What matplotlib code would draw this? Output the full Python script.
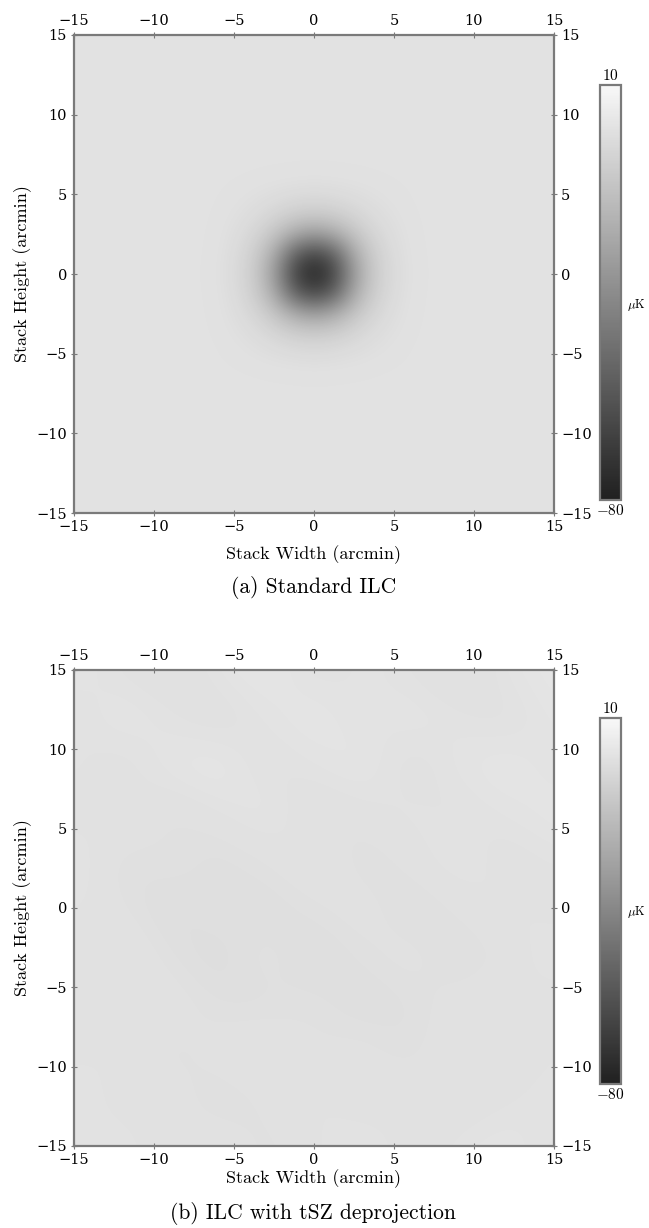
import numpy as np
import matplotlib
matplotlib.use("Agg")
from matplotlib import pyplot as plt
from matplotlib.colors import LinearSegmentedColormap

plt.rcParams['mathtext.fontset'] = 'cm'
plt.rcParams['axes.unicode_minus'] = True

TICKS = [-15, -10, -5, 0, 5, 10, 15]
VMIN, VMAX = -80, 10

# 标准 ILC 叠加图：背景水平 (uK)，中心 11x11 区块，间隔 1.25 arcmin，从上到下
BG_A = 1.0
BLOB_A = [
    [1.0, 1.0, 0.9, 0.8, 0.7, 0.6, 0.7, 0.8, 0.9, 1.0, 1.0],
    [1.0, 0.6, 0.0, -0.8, -1.5, -2.0, -1.5, -0.8, 0.0, 0.6, 1.0],
    [0.9, 0.0, -1.5, -4.0, -7.0, -8.0, -7.0, -4.0, -1.5, 0.0, 0.9],
    [0.8, -0.8, -4.0, -11.0, -22.0, -28.0, -22.0, -11.0, -4.0, -0.8, 0.8],
    [0.7, -1.5, -7.0, -22.0, -52.0, -64.0, -52.0, -22.0, -7.0, -1.5, 0.7],
    [0.6, -2.0, -8.0, -28.0, -64.0, -79.0, -64.0, -28.0, -8.0, -2.0, 0.6],
    [0.7, -1.5, -7.0, -22.0, -52.0, -64.0, -52.0, -22.0, -7.0, -1.5, 0.7],
    [0.8, -0.8, -4.0, -11.0, -22.0, -28.0, -22.0, -11.0, -4.0, -0.8, 0.8],
    [0.9, 0.0, -1.5, -4.0, -7.0, -8.0, -7.0, -4.0, -1.5, 0.0, 0.9],
    [1.0, 0.6, 0.0, -0.8, -1.5, -2.0, -1.5, -0.8, 0.0, 0.6, 1.0],
    [1.0, 1.0, 0.9, 0.8, 0.7, 0.6, 0.7, 0.8, 0.9, 1.0, 1.0],
]

# tSZ 去投影后的叠加图：11x11 网格，间隔 3 arcmin，从上到下
MAP_B = [
    [1.8, 0.6, -0.2, 1.4, 2.6, 0.4, 1.6, 0.8, -0.6, 1.5, 2.4],
    [0.4, 2.2, 1.0, -0.3, 1.3, 2.5, 0.7, 2.0, 1.1, 0.1, 1.9],
    [1.3, -0.1, 1.9, 2.7, 0.2, 1.2, 2.3, -0.2, 1.6, 2.5, 0.9],
    [0.1, 1.7, -0.5, 0.8, 2.1, -0.4, 0.5, 1.4, 0.3, 1.3, 2.2],
    [1.9, -0.7, 0.6, -0.9, 0.1, 1.5, -0.7, 0.4, 1.9, 0.0, 0.9],
    [1.0, 0.3, -1.2, 0.3, -1.0, 0.0, 1.0, -0.9, 0.2, 1.5, 0.3],
    [-0.1, 1.5, -0.2, -1.4, 0.7, -1.3, 0.0, 0.9, -0.7, 0.1, 1.7],
    [1.2, -0.1, 1.1, -0.3, -0.7, 0.4, -1.1, -0.3, 0.6, 1.1, 0.2],
    [0.4, 1.3, -0.5, 0.7, 1.5, -0.1, 0.9, -0.5, 1.3, -0.3, 0.9],
    [1.6, 0.2, 0.9, -0.7, 0.2, 1.3, 0.0, 1.1, -0.1, 0.7, 1.5],
    [0.8, 1.5, 0.0, 1.1, -0.3, 0.7, 1.7, 0.2, 1.1, 1.9, 0.4],
]

CAPTIONS = ["(a) Standard ILC", "(b) ILC with tSZ deprojection"]
SPINE = '#7a7a7a'
LABEL_FONT = 'cmr10'
TICK_FONT = 'DejaVu Serif'
CMAP = LinearSegmentedColormap.from_list('stack_gray', ['#202020', '#f8f8f8'])


def build_map_a():
    grid = np.full((25, 25), BG_A)
    grid[7:18, 7:18] = np.array(BLOB_A)
    return grid


def style_axes(ax, xlabelpad):
    ax.set_xlim(-15, 15)
    ax.set_ylim(-15, 15)
    ax.set_xticks(TICKS)
    ax.set_yticks(TICKS)
    ax.tick_params(direction='inout', length=4, width=0.8, color=SPINE,
                   top=True, right=True, labeltop=True, labelright=True,
                   labelsize=10.5, pad=3)
    for lab in ax.get_xticklabels() + ax.get_yticklabels():
        lab.set_family(TICK_FONT)
    for sp in ax.spines.values():
        sp.set_color(SPINE)
        sp.set_linewidth(1.6)
    ax.set_xlabel("Stack Width (arcmin)", family=LABEL_FONT, fontsize=13, labelpad=xlabelpad)
    ax.set_ylabel("Stack Height (arcmin)", family=LABEL_FONT, fontsize=13, labelpad=3)


def add_colorbar(fig, im, rect):
    cax = fig.add_axes(rect)
    cb = fig.colorbar(im, cax=cax)
    cb.set_ticks([])
    cb.outline.set_edgecolor(SPINE)
    cb.outline.set_linewidth(1.6)
    cax.text(0.5, 1.005, r'$10$', transform=cax.transAxes, ha='center', va='bottom', fontsize=11)
    cax.text(0.5, -0.008, r'$-80$', transform=cax.transAxes, ha='center', va='top', fontsize=11)
    cax.text(1.3, 0.47, r'$\mu\mathrm{K}$', transform=cax.transAxes, ha='left', va='center', fontsize=9)


fig = plt.figure(figsize=(6.49, 12.28), dpi=100)

ax_a = fig.add_axes([0.114, 0.5822, 0.7396, 0.3893])
im_a = ax_a.imshow(build_map_a(), cmap=CMAP, vmin=VMIN, vmax=VMAX,
                   extent=[-15.625, 15.625, -15.625, 15.625], interpolation='bicubic',
                   origin='upper', aspect='auto')
style_axes(ax_a, 8)
add_colorbar(fig, im_a, [0.9245, 0.5928, 0.0324, 0.338])
fig.text(0.483, 0.5212, CAPTIONS[0], family=LABEL_FONT, fontsize=15.5, ha='center', va='center')

ax_b = fig.add_axes([0.114, 0.0668, 0.7396, 0.3876])
im_b = ax_b.imshow(np.array(MAP_B), cmap=CMAP, vmin=VMIN, vmax=VMAX,
                   extent=[-16.5, 16.5, -16.5, 16.5], interpolation='bicubic',
                   origin='upper', aspect='auto')
style_axes(ax_b, 2)
add_colorbar(fig, im_b, [0.9245, 0.1173, 0.0324, 0.298])
fig.text(0.483, 0.0122, CAPTIONS[1], family=LABEL_FONT, fontsize=15.5, ha='center', va='center')

fig.savefig("out.png", dpi=100)
